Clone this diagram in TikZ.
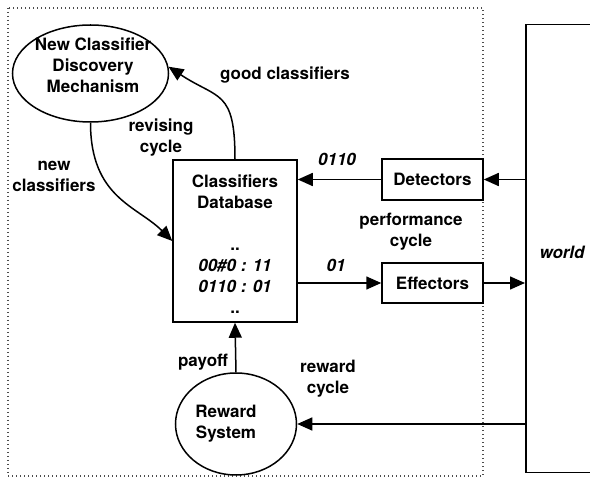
\documentclass[tikz,border=0pt]{standalone}
\usepackage{fontspec}
\setmainfont{TeX Gyre Heros}
\usetikzlibrary{arrows.meta,shapes.geometric}
\begin{document}
\begin{tikzpicture}[x=1pt,y=-1pt,
  every node/.style={font=\fontsize{17}{21}\selectfont\bfseries},
  lbl/.style={align=center, inner sep=0pt},
  itlbl/.style={align=center, inner sep=0pt, font=\fontsize{17}{21}\selectfont\bfseries\itshape},
  box/.style={draw, line width=1.5pt, rectangle, inner sep=0pt},
  oval/.style={draw, line width=1.5pt, ellipse, inner sep=0pt},
  conn/.style={line width=1.5pt, -{Triangle[length=15pt,width=13pt]}},
  ]
\useasboundingbox (0,0) rectangle (590,486);
\clip (0,0) rectangle (590,486);
\fill[white] (0,0) rectangle (590,486);
\draw[black!70, line width=1.2pt, dash pattern=on 1pt off 3pt] (8,8) rectangle (483,476);

% nodes
\node[oval, minimum width=156pt, minimum height=97pt] (ncd) at (90.5,73.5) {};
\node[lbl] (ncdtext) at (93,65) {New Classifier\\Discovery\\Mechanism};
\node[box, minimum width=124pt, minimum height=162pt, align=center] (db) at (235,241)
  {\rule{0pt}{20pt}Classifiers\\Database\\[21pt]..\\{\itshape 00\#0 : 11}\\{\itshape 0110 : 01}\\..};
\node[box, minimum width=101pt, minimum height=41pt] (det) at (432.5,179.5) {Detectors};
\node[box, minimum width=101pt, minimum height=40pt] (eff) at (432.5,283) {Effectors};
\node[oval, minimum width=121pt, minimum height=102pt] (rs) at (236,424) {};
\node[lbl] (rstext) at (226,424) {Reward\\System};
\node[box, anchor=north west, minimum width=150pt, minimum height=448pt] (world) at (525,24) {};
\node[itlbl] (worldtext) at (562,252) {world};

% connectors
\draw[conn] (world.west |- det.east) -- (det.east);
\draw[conn] (det.west) -- (db.east |- det.west);
\draw[conn] (db.east |- eff.west) -- (eff.west);
\draw[conn] (eff.east) -- (world.west |- eff.east);
\draw[conn] (world.west |- rs.east) -- (rs.east);
\draw[conn] (rs.north) -- (db.south);
\draw[conn] (db.north) .. controls +(0,-70) and +(50,33) .. (ncd.5);
\draw[conn] (ncd.south) .. controls +(0,75) and +(-35,-35) .. (db.west);

% labels
\node[lbl] (lgood) at (285,75) {good classifiers};
\node[lbl] (lrev) at (161,138) {revising\\cycle};
\node[lbl] (lnew) at (54,176) {new\\classifiers};
\node[itlbl] (l0110) at (337,159) {0110};
\node[lbl] (lperf) at (411,232) {performance\\cycle};
\node[itlbl] (l01) at (336,265) {01};
\node[lbl] (lrew) at (328,379) {reward\\cycle};
\node[lbl] (lpay) at (203,362) {payoff};
\end{tikzpicture}
\end{document}
